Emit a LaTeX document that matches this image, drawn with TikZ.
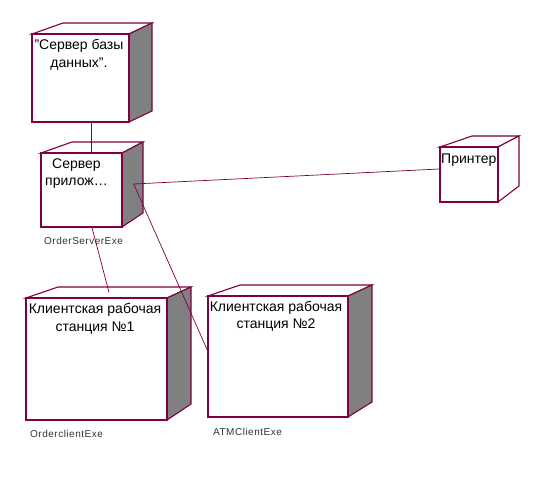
\documentclass[tikz,border=0pt]{standalone}
\usepackage{fontspec}
\setmainfont{Liberation Sans}
\definecolor{rose}{RGB}{128,0,64}
\definecolor{side}{RGB}{128,128,128}
\tikzset{
  front/.style={draw=rose, line width=1.4pt, fill=white, inner sep=0pt, rectangle},
  face/.style={draw=rose, line width=1.1pt, line join=miter},
  link/.style={draw=rose, line width=0.7pt},
  title/.style={font=\fontsize{14}{17.5}\selectfont, align=center, inner sep=0pt, anchor=base},
  exe/.style={font=\fontsize{10}{12}\selectfont\addfontfeatures{LetterSpace=5}, text=black!80, inner sep=0pt, anchor=base west},
}
% name, x1, y1, x2, y2, back-left dx, back-right dx, bottom rise, side fill
\newcommand\cubenode[9]{%
  \filldraw[face, fill=white] (#2,#3) -- ({#2+#6},{#3-11}) -- ({#4+#7},{#3-11}) -- (#4,#3) -- cycle;
  \filldraw[face, fill=#9] (#4,#3) -- ({#4+#7},{#3-11}) -- ({#4+#7},{#5-#8}) -- (#4,#5) -- cycle;
  \node[front, minimum width={(#4-#2)*1pt}, minimum height={(#5-#3)*1pt}] (#1) at ({(#2+#4)/2},{(#3+#5)/2}) {};
}
\begin{document}
\begin{tikzpicture}[x=1pt, y=-1pt]
\useasboundingbox[fill=white] (0,0) rectangle (546,479);

\cubenode{db}{32}{34}{129}{122}{31}{23}{11}{side}
\cubenode{app}{41}{153}{122}{227}{31}{21}{14}{side}
\cubenode{prn}{440}{147}{498}{202}{32}{21}{16}{white}
\cubenode{cl1}{26}{298}{167}{420}{32}{24}{16}{side}
\cubenode{cl2}{208}{296}{348}{417}{32}{24}{15}{side}

% base anchor of a two-line node = baseline of its last line
\node[title, font=\fontsize{14}{18}\selectfont] (dbt) at (79,67.3) {"Сервер базы\\данных".};
\node[title, font=\fontsize{14}{17}\selectfont] (appt) at (76.5,185) {Сервер\\прилож…};
\node[title, anchor=base west] (prnt) at (441,163) {Принтер};
\node[title, font=\fontsize{14}{18}\selectfont] (cl1t) at (95,331) {Клиентская рабочая\\станция №1};
\node[title, font=\fontsize{14}{17}\selectfont] (cl2t) at (276,328) {Клиентская рабочая\\станция №2};

\node[exe] (appx) at (44,244) {OrderServerExe};
\node[exe] (cl1x) at (30,437) {OrderclientExe};
\node[exe] (cl2x) at (213,435) {ATMClientExe};

\coordinate (appc) at ([xshift=11pt, yshift=6pt]app.east);
\draw[link] ([xshift=10.5pt]db.south) -- ([xshift=9.5pt]app.north);
\draw[link] (appc) -- ([yshift=5.5pt]prn.west);
\draw[link] (appc) -- ([yshift=6.5pt]cl2.west);
\draw[link] ([xshift=10.5pt]app.south) -- ([xshift=12.5pt, yshift=5pt]cl1.north);
\end{tikzpicture}
\end{document}
